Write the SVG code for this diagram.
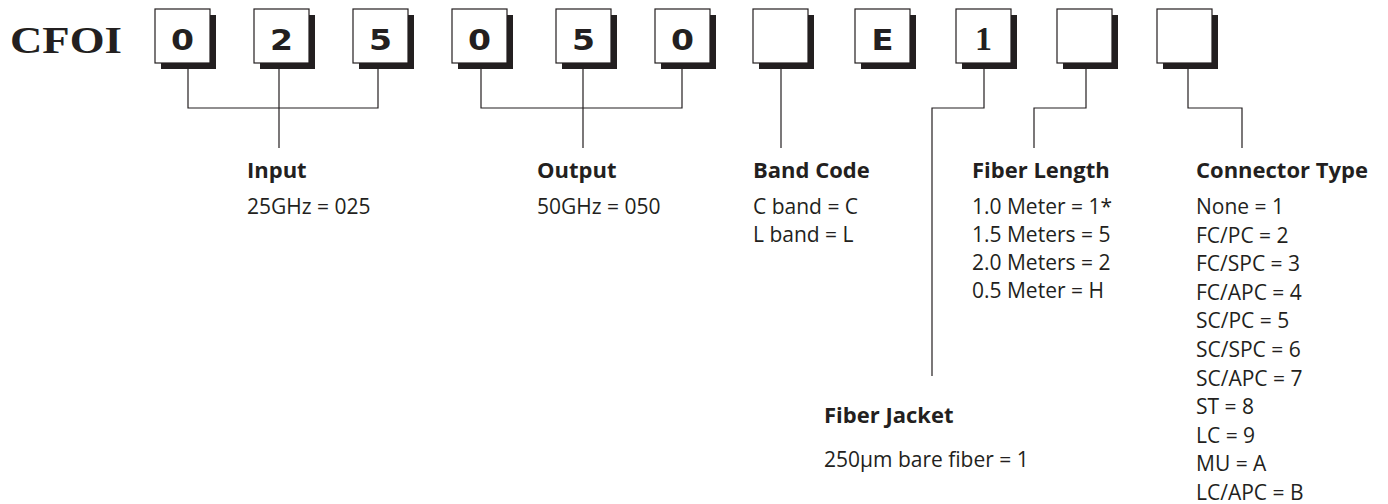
<svg xmlns="http://www.w3.org/2000/svg" width="1388" height="504" viewBox="0 0 1388 504">
<style>
.bx{fill:#fff;stroke:#231f20;stroke-width:1.2}
.sh{fill:#231f20}
.dg{font-family:"DejaVu Sans",sans-serif;font-weight:bold;font-size:28px;fill:#231f20;text-anchor:middle}
.dgs{font-family:"Liberation Serif",serif;font-weight:bold;font-size:34px;fill:#231f20;text-anchor:middle}
.hd{font-family:"Open Sans",sans-serif;font-weight:700;font-size:22px;fill:#231f20}
.tx{font-family:"Open Sans",sans-serif;font-size:21px;fill:#231f20}
.ln{fill:none;stroke:#231f20;stroke-width:1.2}
</style>
<rect width="1388" height="504" fill="#fff"/>
<g id="title"><text x="10" y="53" font-family="Liberation Serif,serif" font-weight="bold" font-size="38" fill="#231f20" textLength="112" lengthAdjust="spacingAndGlyphs">CFOI</text></g>
<g id="box1"><rect class="sh" x="161" y="15" width="55" height="54"/><rect class="bx" x="155" y="9" width="55" height="54"/><text class="dg" x="182.5" y="50" textLength="23" lengthAdjust="spacingAndGlyphs">0</text></g>
<g id="box2"><rect class="sh" x="260" y="15" width="55" height="54"/><rect class="bx" x="254" y="9" width="55" height="54"/><text class="dg" x="281.5" y="50" textLength="23" lengthAdjust="spacingAndGlyphs">2</text></g>
<g id="box3"><rect class="sh" x="359" y="15" width="55" height="54"/><rect class="bx" x="353" y="9" width="55" height="54"/><text class="dg" x="380.5" y="50" textLength="23" lengthAdjust="spacingAndGlyphs">5</text></g>
<g id="box4"><rect class="sh" x="458" y="15" width="55" height="54"/><rect class="bx" x="452" y="9" width="55" height="54"/><text class="dg" x="479.5" y="50" textLength="23" lengthAdjust="spacingAndGlyphs">0</text></g>
<g id="box5"><rect class="sh" x="562" y="15" width="55" height="54"/><rect class="bx" x="556" y="9" width="55" height="54"/><text class="dg" x="583.5" y="50" textLength="23" lengthAdjust="spacingAndGlyphs">5</text></g>
<g id="box6"><rect class="sh" x="661" y="15" width="55" height="54"/><rect class="bx" x="655" y="9" width="55" height="54"/><text class="dg" x="682.5" y="50" textLength="23" lengthAdjust="spacingAndGlyphs">0</text></g>
<g id="box7"><rect class="sh" x="759" y="15" width="55" height="54"/><rect class="bx" x="753" y="9" width="55" height="54"/></g>
<g id="box8"><rect class="sh" x="861" y="15" width="55" height="54"/><rect class="bx" x="855" y="9" width="55" height="54"/><text class="dg" x="882.5" y="50" textLength="22" lengthAdjust="spacingAndGlyphs">E</text></g>
<g id="box9"><rect class="sh" x="962" y="15" width="55" height="54"/><rect class="bx" x="956" y="9" width="55" height="54"/><text class="dgs" x="983.5" y="50">1</text></g>
<g id="box10"><rect class="sh" x="1063" y="15" width="55" height="54"/><rect class="bx" x="1057" y="9" width="55" height="54"/></g>
<g id="box11"><rect class="sh" x="1163" y="15" width="55" height="54"/><rect class="bx" x="1157" y="9" width="55" height="54"/></g>
<g id="connectors">
<path class="ln" d="M188 69V108H378V69M279 69V148"/>
<path class="ln" d="M481 69V108H682V69M583 69V148"/>
<path class="ln" d="M781 69V148"/>
<path class="ln" d="M984 69V108H932V376"/>
<path class="ln" d="M1086 69V108H1034V148"/>
<path class="ln" d="M1188 69V108H1242V148"/>
</g>
<g id="input"><text class="hd" x="247" y="178">Input</text><text class="tx" x="247" y="214">25GHz = 025</text></g>
<g id="output"><text class="hd" x="537" y="178">Output</text><text class="tx" x="537" y="214">50GHz = 050</text></g>
<g id="band"><text class="hd" x="753" y="178">Band Code</text><text class="tx" x="753" y="214">C band = C</text><text class="tx" x="753" y="242">L band = L</text></g>
<g id="length"><text class="hd" x="972" y="178">Fiber Length</text><text class="tx" x="972" y="214">1.0 Meter = 1*</text><text class="tx" x="972" y="242">1.5 Meters = 5</text><text class="tx" x="972" y="270">2.0 Meters = 2</text><text class="tx" x="972" y="298">0.5 Meter = H</text></g>
<g id="jacket"><text class="hd" x="824" y="423">Fiber Jacket</text><text class="tx" x="824" y="467">250µm bare fiber = 1</text></g>
<g id="connector"><text class="hd" x="1196" y="178">Connector Type</text>
<text class="tx" x="1196" y="214">None = 1</text>
<text class="tx" x="1196" y="242.6">FC/PC = 2</text>
<text class="tx" x="1196" y="271.2">FC/SPC = 3</text>
<text class="tx" x="1196" y="299.8">FC/APC = 4</text>
<text class="tx" x="1196" y="328.4">SC/PC = 5</text>
<text class="tx" x="1196" y="357">SC/SPC = 6</text>
<text class="tx" x="1196" y="385.6">SC/APC = 7</text>
<text class="tx" x="1196" y="414.2">ST = 8</text>
<text class="tx" x="1196" y="442.8">LC = 9</text>
<text class="tx" x="1196" y="471.4">MU = A</text>
<text class="tx" x="1196" y="500">LC/APC = B</text></g>
</svg>
